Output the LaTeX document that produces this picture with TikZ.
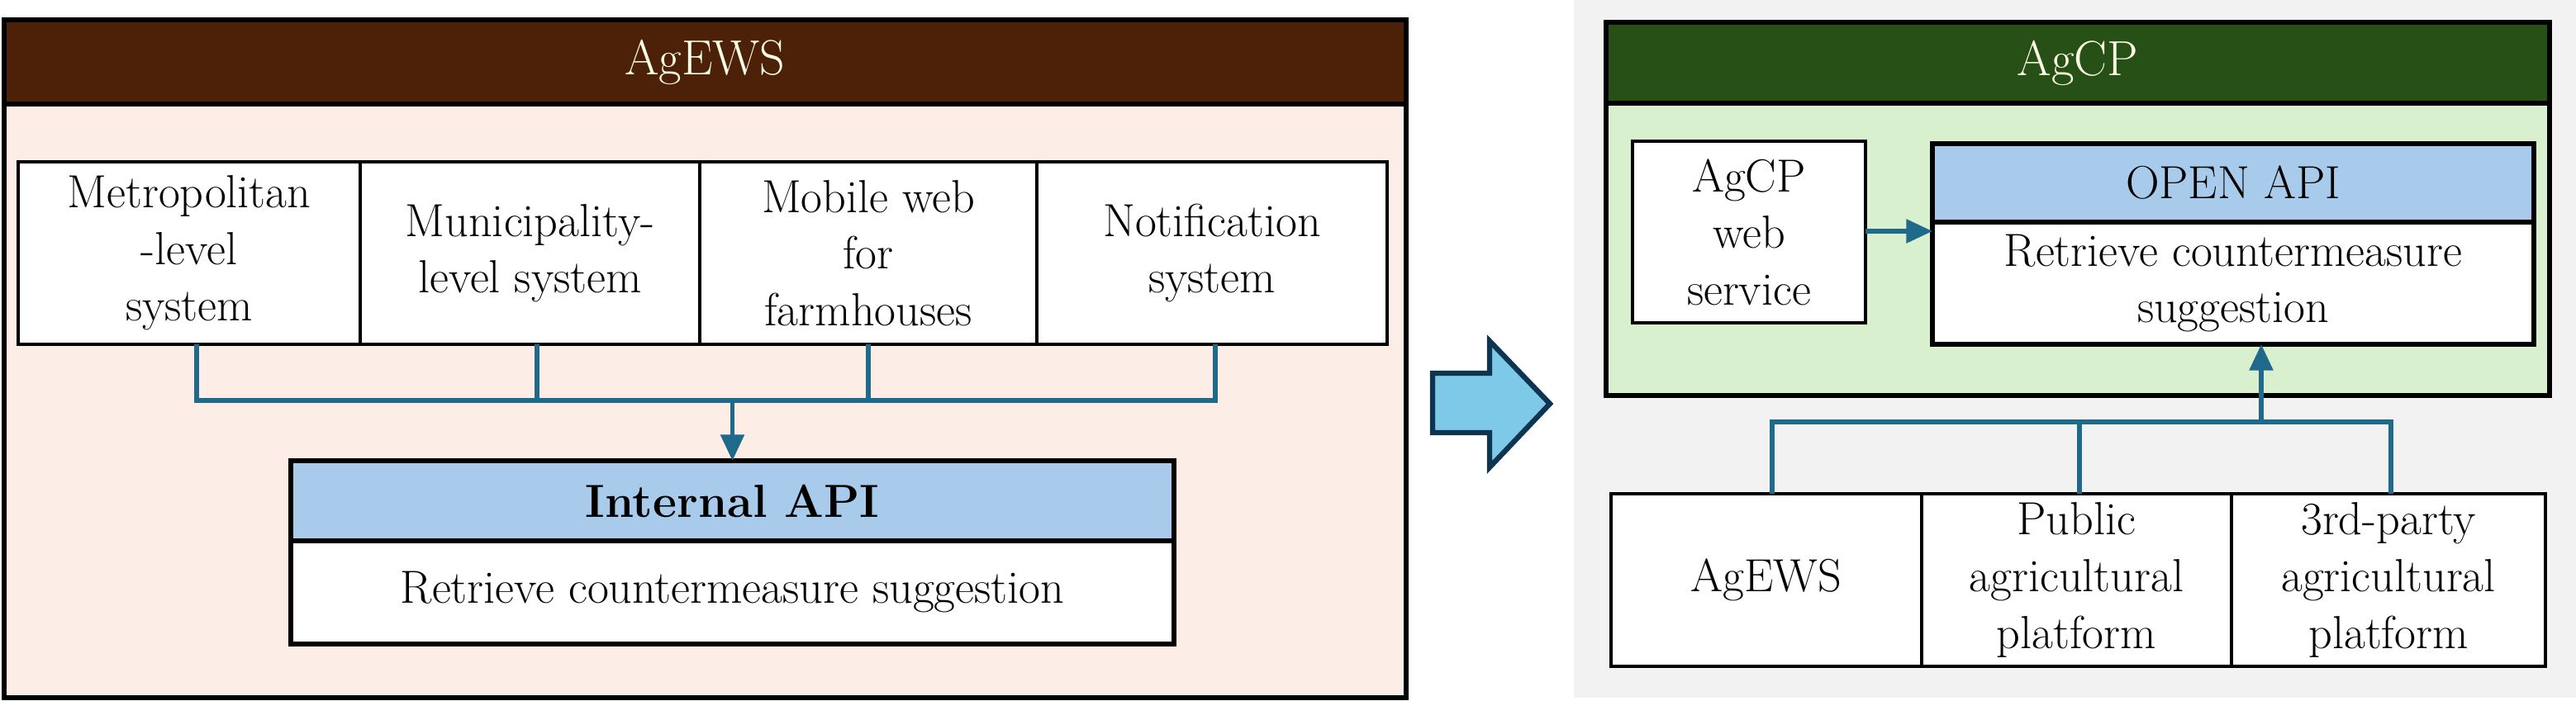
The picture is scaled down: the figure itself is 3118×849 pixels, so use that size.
\documentclass[tikz,border=0pt]{standalone}
\usetikzlibrary{arrows.meta}
\definecolor{brn}{HTML}{4D2108}
\definecolor{pnk}{HTML}{FCEDE6}
\definecolor{dgr}{HTML}{265015}
\definecolor{lgr}{HTML}{D9F0CF}
\definecolor{lbl}{HTML}{A9CBEB}
\definecolor{cn}{HTML}{1F6A8A}
\definecolor{arf}{HTML}{7EC8E8}
\definecolor{arl}{HTML}{0E3550}
\definecolor{gbg}{HTML}{F2F2F2}
\begin{document}
\begin{tikzpicture}[x=0.1mm,y=-0.1mm,
  every node/.style={inner sep=0pt,outer sep=0pt,font=\fontsize{16}{19.5}\selectfont,align=center},
  box/.style={draw=black,line width=1.3pt,fill=white},
  hdr/.style={draw=black,line width=1.6pt,text=white!90!yellow,font=\fontsize{17}{20}\selectfont},
  conn/.style={draw=cn,line width=1.5pt},
  arr/.style={conn,-{Triangle[length=9pt,width=8pt]}}]
\useasboundingbox (0,0) rectangle (3118,849);
\fill[white] (0,0) rectangle (3118,849);
% left panel
\node[draw=black,line width=1.6pt,fill=pnk,minimum width=169.7mm,minimum height=82.1mm] (L) at (853.5,434.5) {};
\node[hdr,fill=brn,minimum width=169.7mm,minimum height=10.2mm] (Lh) at (853.5,75) {AgEWS};
\node[box,minimum width=41.4mm,minimum height=22.1mm] (m1) at (229,306.5) {Metropolitan\\-level\\system};
\node[box,minimum width=41.1mm,minimum height=22.1mm] (m2) at (641.5,306.5) {Municipality-\\level system};
\node[box,minimum width=40.8mm,minimum height=22.1mm] (m3) at (1051,306.5) {Mobile web\\for\\farmhouses};
\node[box,minimum width=42.4mm,minimum height=22.1mm] (m4) at (1467,306.5) {Notification\\system};
\node[box,line width=1.6pt,fill=lbl,minimum width=106.9mm,minimum height=9.7mm] (ia) at (886.5,606.5) {\bfseries Internal API};
\node[box,line width=1.6pt,minimum width=106.9mm,minimum height=12.5mm] (ib) at (886.5,717.5) {Retrieve countermeasure suggestion};
\coordinate (b1) at (238,485);
\draw[conn] (m1.south -| b1) -- (b1) -- (1471,485) -- (m4.south -| 1471,0);
\draw[conn] (m2.south -| 650,0) -- (650,485);
\draw[conn] (m3.south -| 1051,0) -- (1051,485);
\draw[arr] (ia.north |- b1) -- (ia.north);
% big arrow
\node[draw=arl,line width=1.8pt,fill=arf,minimum size=0pt] (ba) at (1805,490) {};
\draw[arl,line width=1.8pt,fill=arf] (1734,452) -- (1803,452) -- (1803,413) -- (1876,489) -- (1803,566) -- (1803,524) -- (1734,524) -- cycle;
% right panel
\fill[gbg] (1905,0) rectangle (3118,845);
\node[draw=black,line width=1.6pt,fill=lgr,minimum width=114.2mm,minimum height=45.2mm] (R) at (2515,253) {};
\node[hdr,fill=dgr,minimum width=114.2mm,minimum height=9.8mm] (Rh) at (2515,76) {AgCP};
\node[box,minimum width=28.2mm,minimum height=22mm] (ws) at (2117,281) {AgCP\\web\\service};
\node[box,line width=1.6pt,fill=lbl,minimum width=72.8mm,minimum height=9.5mm] (oa) at (2703,221.5) {OPEN API};
\node[box,line width=1.6pt,minimum width=72.8mm,minimum height=14.8mm] (ob) at (2703,343) {Retrieve countermeasure\\suggestion};
\draw[arr] (ws.east |- 0,280) -- (ob.west |- 0,280);
\node[box,minimum width=37.6mm,minimum height=20.9mm] (p1) at (2138,702.5) {AgEWS};
\node[box,minimum width=37.5mm,minimum height=20.9mm] (p2) at (2513.5,702.5) {Public\\agricultural\\platform};
\node[box,minimum width=38mm,minimum height=20.9mm] (p3) at (2891,702.5) {3rd-party\\agricultural\\platform};
\coordinate (b2) at (2145,511);
\draw[conn] (p1.north -| b2) -- (b2) -- (2894,511) -- (p3.north -| 2894,0);
\draw[conn] (p2.north -| 2517,0) -- (2517,511);
\draw[arr] (2737,511) -- (ob.south -| 2737,0);
\end{tikzpicture}
\end{document}
